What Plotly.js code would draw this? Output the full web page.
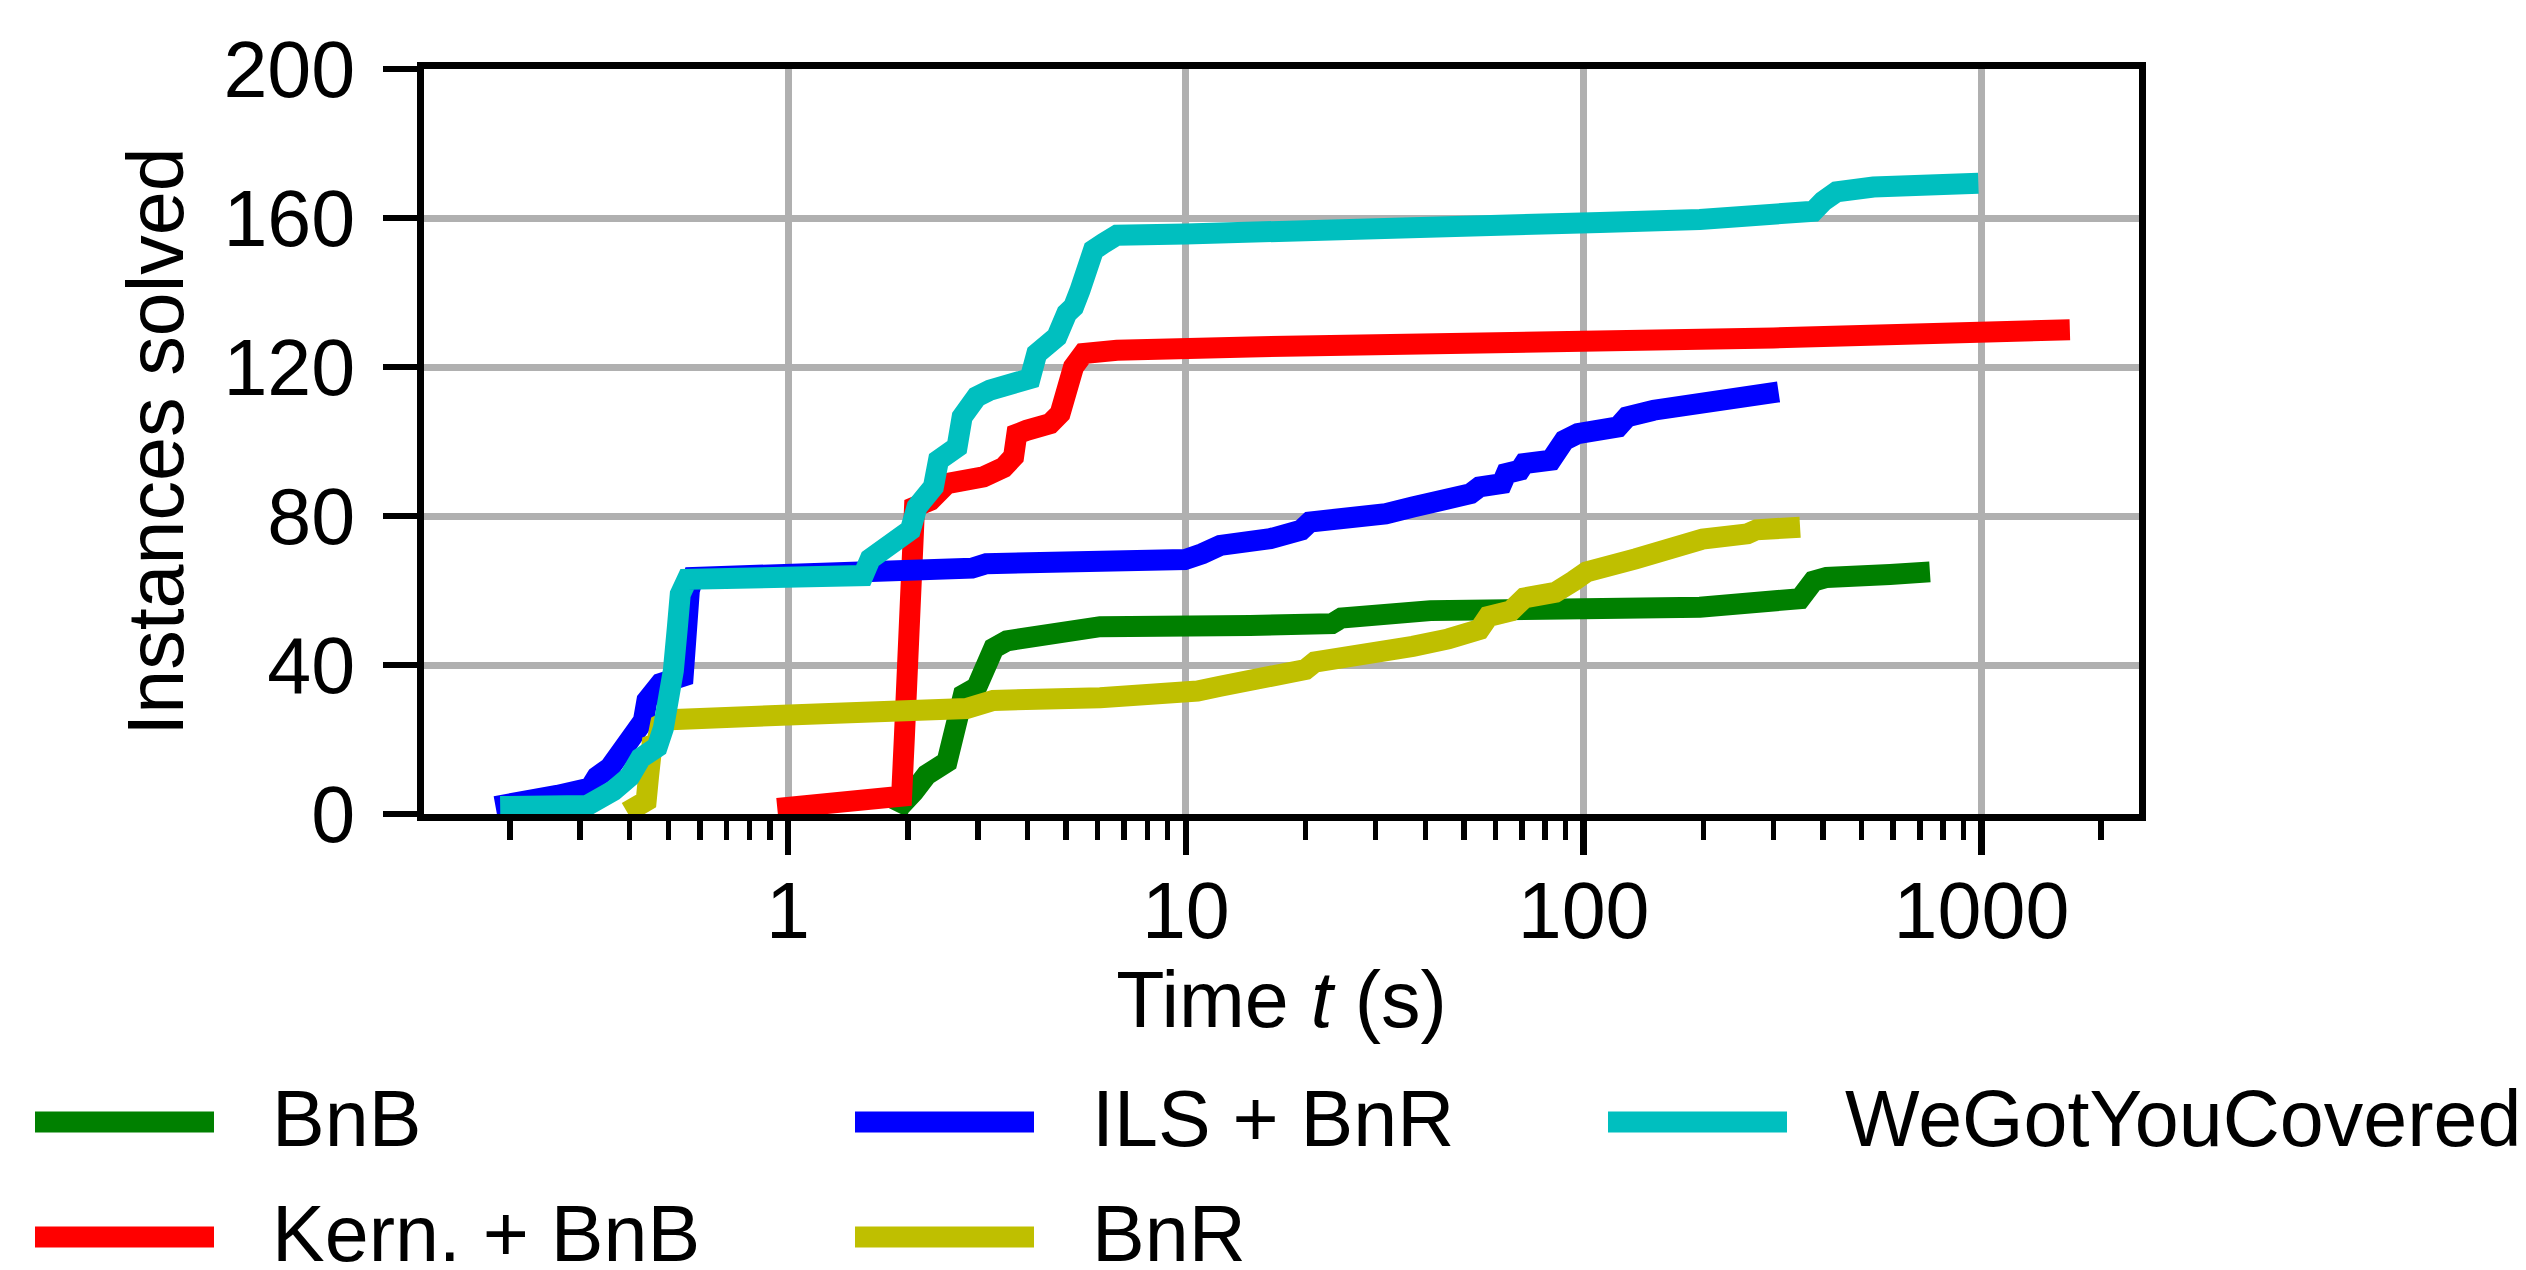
<!DOCTYPE html>
<html>
<head>
<meta charset="utf-8">
<script src="https://cdn.plot.ly/plotly-3.0.1.min.js"></script>
<style>
html, body { margin: 0; padding: 0; background: #ffffff; }
#chart { width: 2526px; height: 1270px; }
</style>
</head>
<body>
<div id="chart"></div>
<script>
// ---- data ----
const seriesNames = ['BnB', 'Kern. + BnB', 'ILS + BnR', 'BnR', 'WeGotYouCovered'];

const bnbTime = [1.88, 1.91, 2.07, 2.23, 2.51, 2.61, 2.71, 2.76, 2.98, 3.10, 3.29, 3.55, 4.39, 4.74, 6.09, 14.5, 23.3, 24.6, 39.1, 41.2, 196, 317, 350, 378, 408, 589, 742];
const bnbSolved = [0.5, 2, 6, 10.5, 14, 21, 26, 32, 34, 39, 44.5, 46.5, 47.5, 48.8, 50.3, 50.6, 51.1, 52.6, 53.6, 54.6, 55.5, 56.5, 57.8, 62.5, 63.5, 64.3, 65];

const kernTime = [0.94, 1.2, 1.5, 1.93, 1.96, 1.99, 2.03, 2.07, 2.08, 2.28, 2.51, 3.10, 3.48, 3.69, 3.76, 3.98, 4.56, 4.83, 5.02, 5.22, 5.53, 6.71, 14.5, 50, 180, 300, 1668];
const kernSolved = [1.5, 3, 3.8, 4.8, 20, 32, 57, 75, 82.4, 84.2, 88.7, 90.5, 93, 95.9, 102, 103, 104.8, 107.5, 114.7, 120, 123.6, 124.5, 125.4, 126.2, 127, 127.8, 130];

const ilsTime = [0.184, 0.248, 0.263, 0.318, 0.331, 0.357, 0.402, 0.433, 0.442, 0.478, 0.545, 0.55, 0.555, 0.565, 0.578, 1.0, 1.14, 1.17, 2.9, 3.15, 6.09, 9.95, 11.0, 12.2, 16.3, 19.5, 20.5, 28, 31.8, 37.2, 42.3, 52, 54.7, 62.3, 63.9, 69.1, 70.9, 82.8, 89.4, 96.7, 122, 128.5, 150, 189, 233, 245, 309];
const ilsSolved = [2, 3.5, 5, 7, 10, 12.5, 19.5, 25, 30.5, 35, 37, 45, 55, 60, 63.5, 64, 64.3, 65.3, 66, 67.2, 68, 68.3, 69.9, 72.1, 73.9, 76.2, 78.4, 79.3, 80.6, 82.4, 83.3, 86, 87.8, 88.7, 91.4, 92.3, 94.1, 95, 100.3, 102.1, 103.9, 106.6, 108.4, 110.2, 111, 112.4, 113.3];

const bnrTime = [0.394, 0.44, 0.446, 0.45, 0.455, 0.468, 0.478, 0.506, 1.16, 1.27, 2.81, 3.0, 3.28, 6.09, 9.95, 10.7, 12.2, 17.1, 20, 21.1, 31.8, 37.2, 45.7, 54.7, 57.6, 65.6, 70.9, 84.9, 94.2, 101.7, 135, 158, 199, 258, 272, 350];
const bnrSolved = [0.5, 3.5, 10, 17, 18.5, 19, 24, 25.3, 25.6, 27, 28.3, 29.2, 30.5, 31.2, 31.6, 33, 34.3, 36.5, 38.8, 40.8, 43.2, 45, 47, 49.5, 53, 54.5, 58, 59.5, 62.5, 65, 68.5, 71, 73.8, 75.2, 76.3, 77];

const wgycTime = [0.189, 0.313, 0.364, 0.40, 0.426, 0.469, 0.486, 0.506, 0.515, 0.527, 0.536, 0.558, 1.0, 1.545, 1.61, 1.74, 1.91, 2.03, 2.11, 2.19, 2.32, 2.39, 2.51, 2.66, 2.74, 2.82, 2.98, 3.22, 3.55, 4.06, 4.22, 4.47, 4.74, 5.02, 5.22, 5.42, 5.64, 5.86, 6.21, 6.71, 10, 20, 50, 100, 110, 196, 378, 400, 432, 535, 982];
const wgycSolved = [2, 2.3, 6.3, 10, 15, 18, 23, 30, 38.5, 50, 59, 63, 63.4, 64, 68.5, 71.7, 74.4, 76.2, 82.4, 85.1, 87.8, 95, 96.8, 98.5, 106.6, 109.3, 112, 113.8, 115.6, 116.9, 123.6, 125.4, 128.1, 134.4, 136.1, 140.6, 147.8, 151.4, 153.2, 155.4, 155.7, 156.2, 157, 158, 158.8, 159.6, 161.8, 164.5, 167, 168.3, 169.3];

const xTickVals = [1, 10, 100, 1000];
const xTickText = ['1', '10', '100', '1000'];
const yTickVals = [0, 40, 80, 120, 160, 200];
const yTickText = ['0', '40', '80', '120', '160', '200'];

// ---- styles ----
const seriesColors = ['#008000', '#ff0000', '#0000ff', '#bfbf00', '#00bfbf'];
const seriesX = [bnbTime, kernTime, ilsTime, bnrTime, wgycTime];
const seriesY = [bnbSolved, kernSolved, ilsSolved, bnrSolved, wgycSolved];
const LINE_W = 21;
const FONT = '"Liberation Sans", Arial, Helvetica, sans-serif';
const FS = 79;

const traces = seriesNames.map((name, i) => ({
  type: 'scatter',
  mode: 'lines',
  name: name,
  x: seriesX[i],
  y: seriesY[i],
  line: { color: seriesColors[i], width: LINE_W, shape: 'linear' },
  hoverinfo: 'skip'
}));

// plot area in pixels
const PL = 424, PR = 2139, PT = 69, PB = 814;
const W = 2526, H = 1270;
const px2x = px => (px - PL) / (PR - PL);
const py2y = py => (PB - py) / (PB - PT);

// legend (3 columns, filled column-wise)
const legLineStart = [35, 855, 1608];
const legLineLen = 179;
const legTextGap = 239;
const legRowY = [1122, 1237];
const shapes = [];
const annotations = [];
seriesNames.forEach((name, i) => {
  const col = Math.floor(i / 2), row = i % 2;
  const x0 = legLineStart[col];
  const y = legRowY[row];
  shapes.push({
    type: 'line', xref: 'paper', yref: 'paper',
    x0: px2x(x0), x1: px2x(x0 + legLineLen), y0: py2y(y), y1: py2y(y),
    line: { color: seriesColors[i], width: 21 }
  });
  annotations.push({
    xref: 'paper', yref: 'paper', x: px2x(x0 + legTextGap - 3), y: py2y(y - 4),
    xanchor: 'left', yanchor: 'middle', showarrow: false, borderpad: 0,
    text: name, font: { family: FONT, size: FS, color: '#000000' }
  });
});

const axisCommon = {
  showline: true, linecolor: '#000000', linewidth: 7, mirror: true,
  ticks: 'outside', tickcolor: '#000000', tickwidth: 6.5, ticklen: 34,
  showgrid: true, gridcolor: '#b0b0b0', gridwidth: 7,
  zeroline: false, automargin: false,
  tickfont: { family: FONT, size: FS, color: '#000000' }
};

const layout = {
  width: W, height: H,
  margin: { l: PL, r: W - PR, t: PT, b: H - PB, pad: 0, autoexpand: false },
  paper_bgcolor: '#ffffff', plot_bgcolor: '#ffffff',
  font: { family: FONT, size: FS, color: '#000000' },
  showlegend: false,
  xaxis: Object.assign({}, axisCommon, {
    type: 'log', range: [-0.915, 3.396],
    tickmode: 'array', tickvals: xTickVals, ticktext: xTickText,
    ticklabelstandoff: -12,
    minor: { ticks: 'outside', ticklen: 19, tickwidth: 5.5, tickcolor: '#000000', dtick: 'D1', showgrid: false },
    title: { text: 'Time <i>t</i> (s)', font: { family: FONT, size: FS, color: '#000000' }, standoff: 20 }
  }),
  yaxis: Object.assign({}, axisCommon, {
    range: [0, 200],
    tickmode: 'array', tickvals: yTickVals, ticktext: yTickText,
    ticklabelstandoff: 12,
    title: { text: 'Instances solved', font: { family: FONT, size: FS, color: '#000000' }, standoff: 16 }
  }),
  shapes: shapes,
  annotations: annotations
};

Plotly.newPlot('chart', traces, layout, { staticPlot: true, displayModeBar: false });
</script>
</body>
</html>
